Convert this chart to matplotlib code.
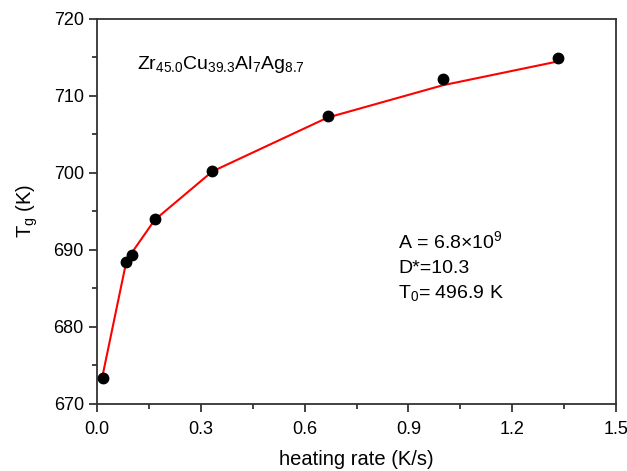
import matplotlib
matplotlib.use('Agg')
import matplotlib.pyplot as plt
from matplotlib.ticker import MultipleLocator

plt.rcParams['font.family'] = ['Liberation Sans', 'DejaVu Sans']
plt.rcParams['mathtext.fontset'] = 'custom'
plt.rcParams['mathtext.rm'] = 'Liberation Sans'
plt.rcParams['mathtext.it'] = 'Liberation Sans'

# heating rate (K/s) and glass transition temperature (K)
rate = [0.0167, 0.0833, 0.1, 0.1667, 0.3333, 0.6667, 1.0, 1.3333]
tg = [673.4, 688.5, 689.3, 694.0, 700.3, 707.4, 712.2, 714.9]
# VFT fit values at the same rates
tg_fit = [673.8, 688.2, 689.6, 693.9, 700.2, 707.2, 711.4, 714.5]

fig = plt.figure(figsize=(6.27, 4.71), dpi=100)
ax = fig.add_axes([0.1547, 0.1423, 0.8278, 0.8174])

ax.plot(rate, tg_fit, color='red', lw=1.5, zorder=2)
ax.plot(rate, tg, 'o', color='black', ms=7.5, zorder=3)

ax.set_xlim(0, 1.5)
ax.set_ylim(670, 720)
ax.xaxis.set_major_locator(MultipleLocator(0.3))
ax.xaxis.set_minor_locator(MultipleLocator(0.15))
ax.yaxis.set_major_locator(MultipleLocator(10))
ax.yaxis.set_minor_locator(MultipleLocator(5))
ax.set_xticklabels(['%.1f' % v for v in ax.get_xticks()])

ax.tick_params(which='major', direction='out', length=6, width=1.2, labelsize=13,
               top=False, right=False, colors='#222222', labelcolor='black')
ax.tick_params(axis='x', which='major', pad=6)
ax.tick_params(which='minor', direction='out', length=3.5, width=1.2,
               top=False, right=False, colors='#222222')
for s in ax.spines.values():
    s.set_linewidth(1.3)
    s.set_color('#333333')

ax.set_xlabel('heating rate (K/s)', fontsize=14.5, labelpad=9)
ax.set_ylabel(r'T$_\mathregular{g}$ (K)', fontsize=14.5, labelpad=10)

ax.text(0.116, 713.5, r'Zr$_{45.0}$Cu$_{39.3}$Al$_{7}$Ag$_{8.7}$', fontsize=14, va='baseline')
ax.text(0.87, 690.2, r'A = 6.8$\times$10$^{9}$', fontsize=14, va='baseline')
ax.text(0.87, 687.0, 'D*=10.3', fontsize=14, va='baseline')
ax.text(0.87, 683.8, r'T$_{0}$= 496.9 K', fontsize=14, va='baseline')

plt.savefig('out.png', dpi=100)
